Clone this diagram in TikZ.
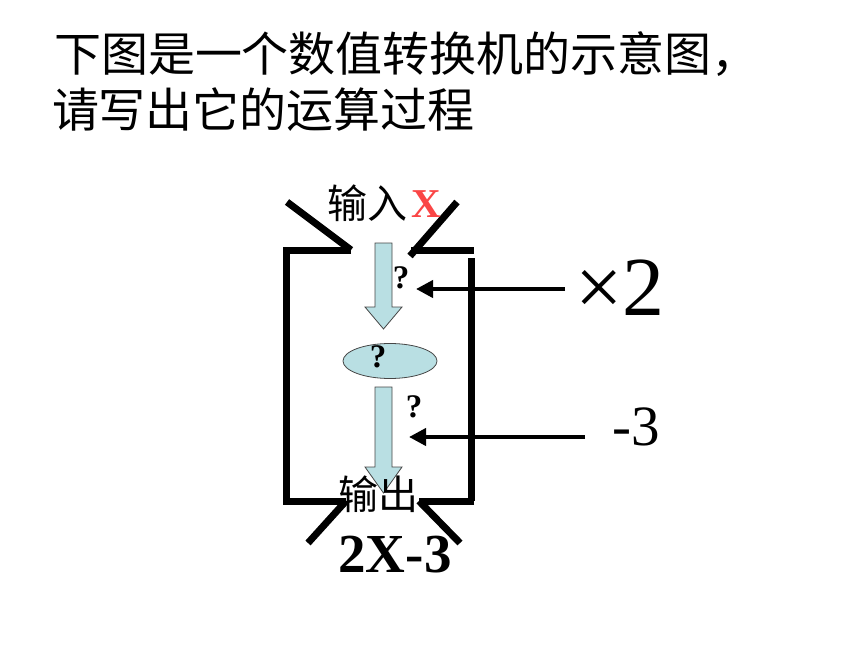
\documentclass[tikz,border=0pt]{standalone}
\usepackage{fontspec}
\setmainfont{Liberation Serif}
\newfontfamily\cjk{Noto Sans CJK SC}
\usetikzlibrary{arrows.meta,shapes.geometric}
\definecolor{blockfill}{RGB}{185,223,227}
\definecolor{blockline}{RGB}{70,70,70}
\definecolor{xred}{RGB}{250,70,70}
\tikzset{
  frame/.style={line width=7pt, black},
  pointer/.style={line width=4pt, black, -{Triangle[length=17pt,width=17pt]}},
  blockarrow/.style={fill=blockfill, draw=blockline, line width=0.8pt},
  txt/.style={inner sep=0pt, outer sep=0pt},
  qmark/.style={txt, anchor=base, font=\bfseries\fontsize{33}{33}\selectfont},
}
\begin{document}
\begin{tikzpicture}[x=1pt, y=-1pt]
\useasboundingbox (0,0) rectangle (860,645);
% title
\node[txt, anchor=west, font=\cjk\fontsize{47}{56}\selectfont] (title1) at (54,54) {下图是一个数值转换机的示意图，};
\node[txt, anchor=west, font=\cjk\fontsize{47}{56}\selectfont] (title2) at (52,110) {请写出它的运算过程};
% frame corners
\coordinate (tl0) at (287,202);
\coordinate (tl1) at (351,250);
\coordinate (tl2) at (286,250);
\coordinate (bl1) at (286,501);
\coordinate (bl2) at (346,501);
\coordinate (bl3) at (308,543);
\coordinate (tr0) at (457,202);
\coordinate (tr1) at (410,256);
\coordinate (tr2) at (411,250);
\coordinate (tr3) at (474,250);
\coordinate (rv0) at (471.5,258);
\coordinate (rv1) at (471.5,501);
\coordinate (br0) at (474,501);
\coordinate (br1) at (419,501);
\coordinate (br2) at (460,543);
\draw[frame] (tl0) -- (tl1);
\draw[frame] (tl1) -- (tl2) -- (bl1) -- (bl2);
\draw[frame] (bl2) -- (bl3);
\draw[frame] (tr0) -- (tr1);
\draw[frame] (tr2) -- (tr3);
\draw[frame] (rv0) -- (rv1);
\draw[frame] (br0) -- (br1);
\draw[frame] (br1) -- (br2);
% block arrows
\draw[blockarrow] (375,243) -- (392,243) -- (392,307) -- (402,307) -- (383.5,329) -- (365,307) -- (375,307) -- cycle;
\node[ellipse, fill=blockfill, draw=blockline, line width=0.8pt, minimum width=94pt, minimum height=35pt, inner sep=0pt] (oval) at (390,361) {};
\draw[blockarrow] (375,387) -- (392,387) -- (392,467) -- (402,467) -- (383.5,493) -- (365,467) -- (375,467) -- cycle;
% labels
\node[txt, font=\cjk\fontsize{40}{40}\selectfont] (inlabel) at (367,203) {输入};
\node[txt, anchor=base, text=xred, font=\bfseries\fontsize{41}{41}\selectfont] (inx) at (426,217) {X};
\node[txt, font=\cjk\fontsize{40}{40}\selectfont] (outlabel) at (378,494) {输出};
\node[txt, anchor=base, font=\bfseries\fontsize{55}{55}\selectfont] (result) at (395,572) {2X-3};
\node[qmark] (q1) at (401,288) {?};
\node[qmark] (q2) at (378,367) {?};
\node[qmark] (q3) at (414,417) {?};
% operations
\node[txt, anchor=base, font=\fontsize{84}{84}\selectfont] (times2) at (620,315) {×2};
\node[txt, anchor=base, font=\fontsize{57}{57}\selectfont] (minus3) at (636,445) {-3};
\coordinate (p1s) at (565,289);
\coordinate (p1e) at (416,289);
\coordinate (p2s) at (585,437);
\coordinate (p2e) at (409,437);
\draw[pointer] (p1s) -- (p1e);
\draw[pointer] (p2s) -- (p2e);
\end{tikzpicture}
\end{document}
